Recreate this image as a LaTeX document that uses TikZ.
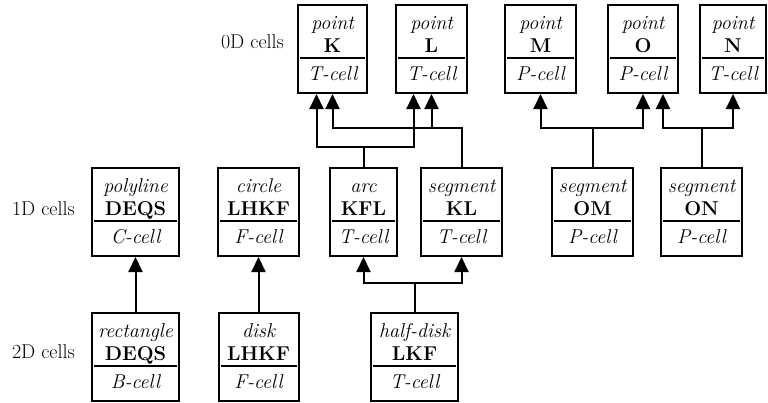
\documentclass[tikz,border=0pt]{standalone}
\usepackage{fontspec}
\setmainfont{Latin Modern Roman}
\usetikzlibrary{arrows.meta}

\tikzset{
  txt/.style={font=\fontsize{20pt}{20pt}\selectfont, inner sep=0pt},
  cellbox/.style={draw, line width=2pt, minimum height=88pt, inner sep=0pt, anchor=north},
  divider/.style={line width=1.2pt},
  link/.style={line width=2pt},
  uplink/.style={link, -{Triangle[width=14pt,length=15pt]}},
}

% \cellnode{name}{centre x}{top y}{width}{shape kind}{vertex list}{cell type}
\newcommand\cellnode[7]{%
  \node[cellbox, minimum width=#4pt] (#1) at (#2,#3) {};
  \node[txt, anchor=base] (#1-kind) at (#2,{#3+25}) {\itshape #5};
  \node[txt, anchor=base] (#1-name) at (#2,{#3+48}) {\bfseries #6};
  \node[txt, anchor=base] (#1-type) at (#2,{#3+76}) {\itshape #7};
  \draw[divider] ([xshift=3pt,yshift=-54pt]#1.north west) -- ([xshift=-3pt,yshift=-54pt]#1.north east);
}

\begin{document}
\begin{tikzpicture}[x=1pt, y=-1pt]
\useasboundingbox (0,0) rectangle (768,402);

% dimension labels
\node[txt, anchor=base east] (dim0) at (284,48) {0D cells};
\node[txt, anchor=base east] (dim1) at (75,215) {1D cells};
\node[txt, anchor=base east] (dim2) at (75,358) {2D cells};

% 0D cells
\cellnode{K}{332.5}{4}{69}{point}{K}{T-cell}
\cellnode{L}{431.5}{4}{71}{point}{L}{T-cell}
\cellnode{M}{540.5}{4}{71}{point}{M}{P-cell}
\cellnode{O}{643}{4}{70}{point}{O}{P-cell}
\cellnode{N}{733}{4}{66}{point}{N}{T-cell}

% 1D cells
\cellnode{DEQSc}{135.5}{167}{87}{polyline}{DEQS}{C-cell}
\cellnode{LHKFc}{258.5}{167}{81}{circle}{LHKF}{F-cell}
\cellnode{KFL}{363.5}{167}{67}{arc}{KFL}{T-cell}
\cellnode{KL}{461.5}{167}{81}{segment}{KL}{T-cell}
\cellnode{OM}{592.5}{167}{81}{segment}{OM}{P-cell}
\cellnode{ON}{701.5}{167}{81}{segment}{ON}{P-cell}

% 2D cells
\cellnode{DEQSb}{135.5}{312}{87}{rectangle}{DEQS}{B-cell}
\cellnode{LHKFf}{258.5}{312}{80}{disk}{LHKF}{F-cell}
\cellnode{LKF}{414.5}{312}{87}{half-disk}{LKF}{T-cell}

% boundary links, 2D -> 1D
\draw[uplink] (DEQSb.north) -- (DEQSc.south);
\draw[uplink] (LHKFf.north) -- (LHKFc.south);
\draw[uplink] (LKF.north) -- ++(0,-29) -| (KFL.south);
\draw[uplink] (LKF.north) -- ++(0,-29) -| (KL.south);

% boundary links, 1D -> 0D
\draw[uplink] (KFL.north) -- ++(0,-20) -| ([xshift=-16pt]K.south);
\draw[uplink] (KFL.north) -- ++(0,-20) -| ([xshift=-18pt]L.south);
\draw[uplink] (KL.north) -- ++(0,-39) -| (K.south);
\draw[uplink] (KL.north) -- ++(0,-39) -| (L.south);
\draw[uplink] (OM.north) -- ++(0,-39) -| (M.south);
\draw[uplink] (OM.north) -- ++(0,-39) -| (O.south);
\draw[uplink] (ON.north) -- ++(0,-39) -| ([xshift=20pt]O.south);
\draw[uplink] (ON.north) -- ++(0,-39) -| (N.south);
\end{tikzpicture}
\end{document}
